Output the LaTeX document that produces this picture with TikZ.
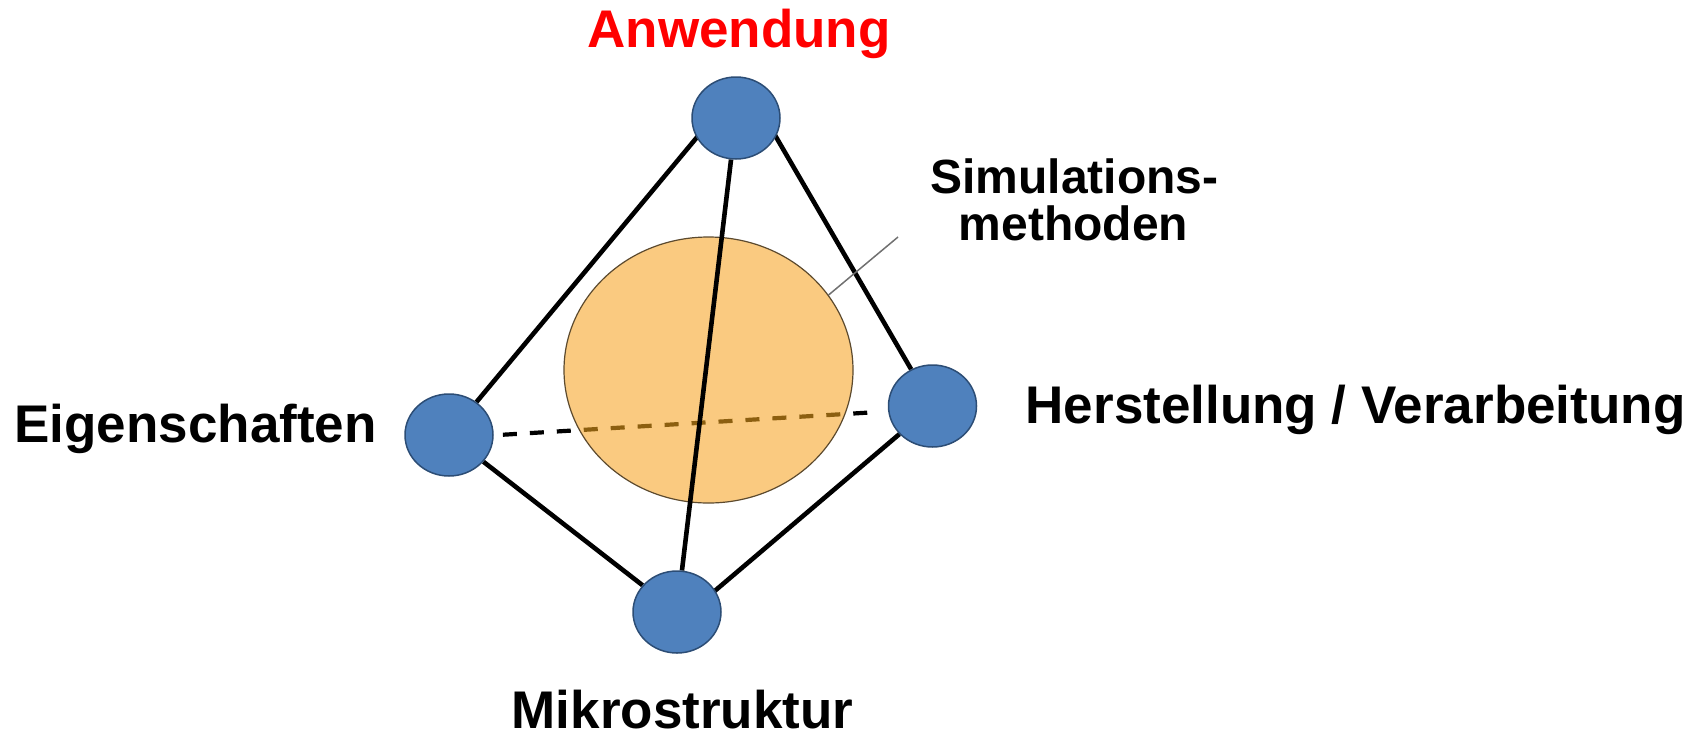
\documentclass[tikz,border=0pt]{standalone}
\usepackage{fontspec}
\setmainfont{Liberation Sans}
\usetikzlibrary{shapes.geometric,calc}
\definecolor{nodeblue}{HTML}{4F81BD}
\definecolor{nodeedge}{HTML}{2C4D75}
\definecolor{simfill}{HTML}{FACA80}
\definecolor{simedge}{HTML}{5C4A2E}
\definecolor{dashbrown}{HTML}{8C5F10}
\definecolor{pointergray}{HTML}{707070}
\pgfdeclarelayer{bottom}
\pgfdeclarelayer{orange}
\pgfdeclarelayer{over}
\pgfsetlayers{bottom,orange,over,main}
\begin{document}
\begin{tikzpicture}[x=1pt,y=-1pt,
  vertex/.style={ellipse, fill=nodeblue, draw=nodeedge, line width=1.5pt,
    minimum width=88pt, minimum height=82pt, inner sep=0pt},
  simball/.style={ellipse, fill=simfill, draw=simedge, line width=1.2pt,
    minimum width=289pt, minimum height=266pt, inner sep=0pt},
  link/.style={line width=4.6pt, black},
  hiddenlink/.style={line width=4.2pt, dash pattern=on 14pt off 13pt},
  pointer/.style={line width=1.5pt, pointergray},
  lbl/.style={font=\bfseries\fontsize{53}{60}\selectfont, inner sep=0pt, anchor=base},
  simlbl/.style={font=\bfseries\fontsize{48}{54}\selectfont, inner sep=0pt, anchor=base}]
\useasboundingbox (0,0) rectangle (1702,737);

% corners of the tetrahedron
\node[vertex] (ant) at (736,118) {};
\node[vertex] (eig) at (449,435) {};
\node[vertex] (her) at (932.5,406) {};
\node[vertex] (mik) at (677,612) {};
\coordinate (dend) at (878,412);
\coordinate (simtip) at (898,237);

% captions
\node[lbl, text=red] (tAnw) at (739,47) {Anwendung};
\node[lbl] (tEig) at (195.5,442) {Eigenschaften};
\node[lbl] (tHer) at (1355.5,423) {Herstellung / Verarbeitung};
\node[lbl] (tMik) at (682.5,728) {Mikrostruktur};
\node[simlbl] (tSim1) at (1074.5,193) {Simulations-};
\node[simlbl] (tSim2) at (1073.5,240) {methoden};

% outer edges and the hidden back edge
\begin{pgfonlayer}{bottom}
  \draw[link] ($(ant)+(-23,0)$) -- (eig);
  \draw[link] ($(ant)+(29,0)$) -- (her);
  \draw[link] (eig) -- (mik);
  \draw[link] (her) -- ($(mik)+(0,11)$);
  \draw[hiddenlink] ($(eig)+(0,3)$) -- (dend);
\end{pgfonlayer}

% simulation sphere inside the tetrahedron
\begin{pgfonlayer}{orange}
  \node[simball, path picture={
      \draw[hiddenlink, dashbrown] ($(eig)+(0,3)$) -- (dend);}] (sim) at (708.5,370) {};
\end{pgfonlayer}

% front edge and pointer to the caption
\begin{pgfonlayer}{over}
  \draw[pointer] (sim.32) -- (simtip);
  \draw[link] (ant) -- (mik);
\end{pgfonlayer}
\end{tikzpicture}
\end{document}
